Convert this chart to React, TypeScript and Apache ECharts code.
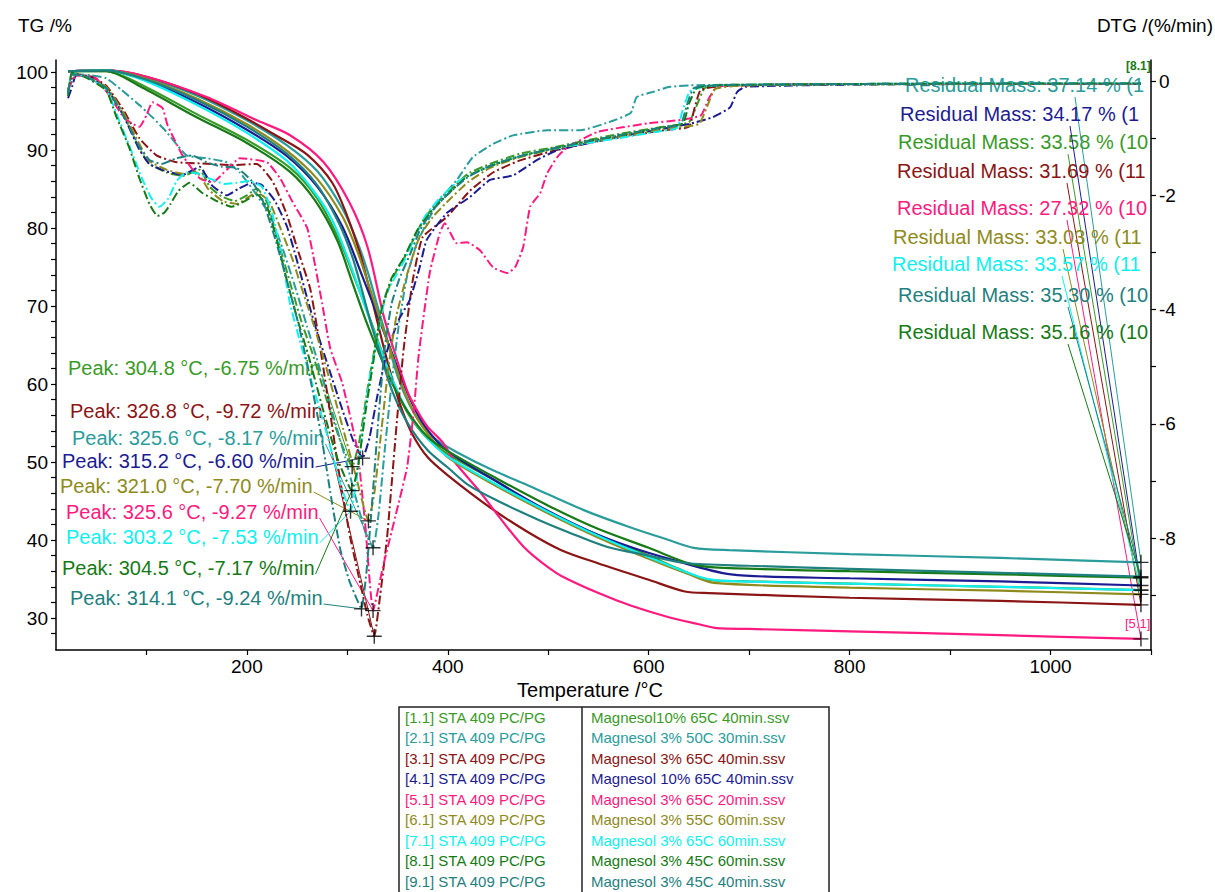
import React, { useEffect, useRef } from "react";
import * as echarts from "echarts";

const FONT = '"Liberation Sans", Arial, Helvetica, sans-serif';

// ---------- data ----------
const instrumentLabels = [
  "[1.1] STA 409 PC/PG", "[2.1] STA 409 PC/PG", "[3.1] STA 409 PC/PG",
  "[4.1] STA 409 PC/PG", "[5.1] STA 409 PC/PG", "[6.1] STA 409 PC/PG",
  "[7.1] STA 409 PC/PG", "[8.1] STA 409 PC/PG", "[9.1] STA 409 PC/PG",
];
const fileLabels = [
  "Magnesol10% 65C 40min.ssv", "Magnesol 3% 50C 30min.ssv", "Magnesol 3% 65C 40min.ssv",
  "Magnesol 10% 65C 40min.ssv", "Magnesol 3% 65C 20min.ssv", "Magnesol 3% 55C 60min.ssv",
  "Magnesol 3% 65C 60min.ssv", "Magnesol 3% 45C 60min.ssv", "Magnesol 3% 45C 40min.ssv",
];

const peakTemps = [304.8, 325.6, 326.8, 315.2, 325.6, 321.0, 303.2, 304.5, 314.1];
const peakRates = [-6.75, -8.17, -9.72, -6.6, -9.27, -7.7, -7.53, -7.17, -9.24];
const residualMass = [33.58, 37.14, 31.69, 34.17, 27.32, 33.03, 33.57, 35.16, 35.3];
const residualTextTemp = [1099.4, 1099.6, 1100.3, 1099.5, 1099.2, 1100.1, 1100.4, 1099.8, 1099.7];
const residualAt = 1090;

const xTicks = [100, 200, 300, 400, 500, 600, 700, 800, 900, 1000, 1100];
const xLabels = [200, 400, 600, 800, 1000];
const tgTicks = [28, 30, 32, 34, 36, 38, 40, 42, 44, 46, 48, 50, 52, 54, 56, 58, 60, 62, 64, 66, 68, 70, 72, 74, 76, 78, 80, 82, 84, 86, 88, 90, 92, 94, 96, 98, 100];
const tgLabels = [30, 40, 50, 60, 70, 80, 90, 100];
const dtgTicks = [-9, -8, -7, -6, -5, -4, -3, -2, -1, 0];
const dtgLabels = [-8, -6, -4, -2, 0];

const tg1 = [[22,100.1],[60,100.1],[93,98.5],[150,94.6],[200,91.3],[243,87.7],[270,83.8],[293,78.2],[305,74.3],[318,70],[332,65],[345,60.5],[360,56.3],[380,53],[400,51],[450,47.4],[490,44.2],[550,40.6],[600,38],[630,36.3],[660,34.9],[700,34.7],[800,34.4],[950,34.0],[1090,33.58]];
const tg2 = [[22,100.1],[60,100.2],[100,99.2],[150,97.0],[200,93.8],[240,90.6],[270,87.3],[295,82.5],[310,78.2],[320,74.5],[330,70],[340,65.5],[350,61],[362,57.3],[375,54.6],[389,52.8],[410,51.2],[444,49],[480,47],[536,43.8],[580,41.7],[620,40],[645,39.0],[680,38.7],[800,38.2],[950,37.7],[1090,37.14]];
const tg3 = [[22,100.1],[60,100.2],[100,99.4],[150,97.2],[193,94.5],[230,91.8],[260,89.4],[285,85.8],[300,81.5],[312,77],[320,73.2],[328,69],[336,64.8],[345,60.5],[355,56.5],[365,53.5],[380,50.6],[400,48.3],[444,44],[480,41],[513,38.7],[550,37],[600,34.9],[636,33.4],[660,33.2],[800,32.6],[950,32.2],[1090,31.69]];
const tg4 = [[22,100.1],[60,100.2],[100,98.9],[150,96.1],[200,92.6],[240,89.2],[270,85.3],[295,80.2],[315,73.8],[330,68.8],[345,63.8],[360,58.8],[375,55],[398,51.6],[450,47.4],[490,44.4],[540,41.2],[582,39.1],[620,37.6],[682,35.6],[800,35.1],[950,34.7],[1090,34.17]];
const tg5 = [[22,100.1],[60,100.2],[100,99.4],[160,96.8],[210,93.8],[243,91.9],[276,88.5],[302,83.3],[320,77.6],[336,68.8],[346,64.5],[360,59],[370,56.5],[380,54.5],[395,52.5],[407,50],[430,46.5],[448,43.5],[460,41.5],[475,39.2],[485,38],[500,36.5],[513,35.4],[550,33.2],[582,31.6],[620,30.1],[650,29.2],[668,28.7],[700,28.6],[800,28.3],[950,27.8],[1090,27.32]];
const tg6 = [[22,100.1],[60,100.2],[100,99.1],[150,96.6],[200,93.3],[240,89.9],[270,86.3],[295,81.5],[310,77],[321,72.8],[332,68.5],[345,63.5],[357,59],[370,55.5],[385,52.8],[400,50.6],[450,46.8],[500,43.4],[550,40.3],[600,37.6],[640,35.6],[665,34.5],[800,33.9],[950,33.5],[1090,33.03]];
const tg7 = [[22,100.1],[60,100.2],[100,98.8],[150,95.8],[200,92.2],[240,88.6],[265,85],[285,81],[303,75.3],[318,69.8],[332,64.8],[345,60.5],[360,56.5],[380,53],[400,50.7],[450,47],[500,43.6],[550,40.5],[600,37.8],[650,35.3],[670,34.8],[800,34.4],[950,34.0],[1090,33.57]];
const tg8 = [[22,100.1],[60,100.1],[93,98.2],[150,94.2],[200,90.9],[243,87.2],[268,83.5],[290,78.4],[304.5,73.2],[318,68.3],[332,63.8],[345,60],[360,56.5],[380,53.2],[400,51.4],[450,47.8],[500,44.4],[550,41.4],[600,39],[640,37],[665,36.5],[800,36.0],[950,35.6],[1090,35.16]];
const tg9 = [[22,100.1],[60,100.2],[100,99.0],[150,96.4],[200,93.0],[240,89.5],[270,85.5],[292,80.5],[305,76.3],[314,72.3],[323,68],[333,63.8],[345,59],[360,55],[380,51.5],[400,49.3],[421,47],[450,45],[490,42.6],[520,41],[559,39.1],[600,38],[636,37.05],[700,36.7],[800,36.3],[950,35.8],[1090,35.3]];

const dtg1 = [[22,-0.22],[26,0.14],[40,0.08],[60,-0.12],[77,-0.58],[93,-1.18],[103,-1.45],[120,-1.6],[136,-1.66],[153,-1.55],[163,-1.85],[175,-2.02],[188,-2.1],[200,-2.0],[210,-1.88],[220,-2.12],[228,-2.6],[236,-3.1],[245,-3.65],[255,-4.25],[265,-4.75],[278,-5.5],[292,-6.25],[304.8,-6.75],[312,-6.3],[320,-5.4],[328,-4.6],[336,-3.9],[345,-3.45],[358,-3.05],[375,-2.45],[388,-2.15],[400,-1.95],[420,-1.62],[442,-1.45],[472,-1.27],[505,-1.16],[540,-1.03],[572,-0.92],[614,-0.8],[640,-0.72],[648,-0.42],[656,-0.12],[680,-0.07],[800,-0.06],[950,-0.05],[1090,-0.05]];
const dtg2 = [[22,-0.15],[30,0.12],[45,0.1],[60,0.05],[75,-0.15],[93,-0.42],[107,-0.65],[120,-0.89],[140,-1.3],[160,-1.35],[180,-1.42],[193,-1.6],[210,-2.0],[223,-2.35],[235,-2.9],[248,-3.6],[260,-4.3],[272,-5.0],[285,-5.8],[298,-6.6],[310,-7.4],[318,-7.9],[325.6,-8.17],[331,-7.6],[337,-6.5],[344,-5.3],[351,-4.3],[359,-3.45],[369,-2.85],[382,-2.38],[392,-2.08],[409,-1.73],[425,-1.33],[445,-1.1],[465,-0.95],[499,-0.86],[532,-0.86],[560,-0.72],[582,-0.56],[588,-0.28],[604,-0.19],[621,-0.1],[648,-0.07],[800,-0.05],[950,-0.04],[1090,-0.04]];
const dtg3 = [[22,-0.18],[28,0.12],[45,0.08],[60,-0.08],[77,-0.5],[93,-1.0],[110,-1.3],[130,-1.42],[153,-1.44],[186,-1.47],[210,-1.45],[226,-1.77],[240,-2.35],[250,-2.92],[263,-3.63],[270,-4.33],[282,-5.7],[293,-7.0],[303,-8.0],[313,-8.8],[320,-9.35],[326.8,-9.72],[332,-9.1],[339.5,-8.0],[349.6,-5.9],[356,-4.7],[365,-3.5],[375,-2.73],[399,-2.38],[422,-1.92],[445,-1.6],[470,-1.4],[505,-1.22],[540,-1.08],[580,-0.95],[620,-0.85],[640,-0.8],[646,-0.45],[652,-0.15],[680,-0.08],[800,-0.05],[950,-0.05],[1090,-0.05]];
const dtg4 = [[22,-0.3],[26,-0.1],[30,0.1],[45,0.06],[60,-0.12],[77,-0.6],[93,-1.2],[103,-1.45],[120,-1.58],[136,-1.64],[153,-1.5],[165,-1.82],[180,-2.0],[192,-1.88],[205,-1.78],[215,-1.82],[228,-2.1],[240,-2.55],[250,-3.15],[260,-3.8],[270,-4.4],[282,-5.05],[295,-5.75],[306,-6.3],[315.2,-6.6],[322,-6.25],[330,-5.5],[340,-4.7],[352,-4.15],[362,-3.84],[372,-3.26],[379,-2.78],[399,-2.31],[422,-2.03],[442,-1.73],[465,-1.65],[489,-1.38],[509,-1.21],[550,-1.05],[600,-0.88],[640,-0.75],[664,-0.63],[681,-0.46],[688,-0.19],[696,-0.1],[800,-0.06],[950,-0.05],[1090,-0.05]];
const dtg5 = [[22,-0.15],[30,0.1],[50,0.05],[65,-0.3],[78,-0.65],[93,-0.8],[100,-0.6],[106,-0.37],[116,-0.47],[121,-0.77],[136,-1.3],[153,-1.7],[166,-1.77],[180,-1.55],[193,-1.35],[220,-1.42],[233,-1.7],[245,-2.1],[260,-2.57],[266,-3.05],[275,-3.9],[283,-4.68],[295,-5.29],[310,-6.46],[318,-7.8],[325.6,-9.27],[335.5,-8.5],[349.5,-7.5],[359.5,-6.76],[366,-5.8],[371,-4.8],[382,-3.36],[392,-2.66],[397,-2.49],[409,-2.84],[419,-2.82],[432,-2.96],[445,-3.26],[459,-3.36],[467,-3.26],[475,-2.91],[482,-2.2],[492,-1.96],[499,-1.61],[509,-1.33],[519,-1.16],[549,-0.89],[599,-0.74],[632,-0.68],[652,-0.6],[660,-0.3],[668,-0.1],[700,-0.07],[800,-0.05],[950,-0.05],[1090,-0.05]];
const dtg6 = [[22,-0.2],[26,0.12],[40,0.08],[60,-0.1],[77,-0.55],[93,-1.1],[103,-1.4],[120,-1.55],[136,-1.62],[150,-1.6],[162,-1.9],[176,-2.1],[190,-2.15],[200,-2.05],[210,-1.95],[222,-2.1],[234,-2.6],[245,-3.1],[256,-3.7],[268,-4.35],[282,-5.2],[296,-6.1],[309,-6.95],[321,-7.7],[327,-7.2],[334,-6.1],[341,-5.0],[349,-4.1],[360,-3.35],[372,-2.72],[385,-2.38],[399,-2.12],[420,-1.77],[442,-1.52],[470,-1.34],[505,-1.19],[540,-1.07],[580,-0.95],[620,-0.83],[650,-0.75],[658,-0.45],[666,-0.14],[690,-0.08],[800,-0.05],[950,-0.05],[1090,-0.04]];
const dtg7 = [[22,-0.22],[26,0.13],[40,0.07],[60,-0.14],[72,-0.65],[85,-1.22],[95,-1.68],[105,-2.05],[113,-2.2],[122,-2.05],[130,-1.75],[140,-1.6],[152,-1.62],[165,-1.72],[178,-1.8],[190,-1.78],[202,-1.75],[215,-1.85],[225,-2.3],[234,-3.0],[243,-3.9],[252,-4.5],[265,-5.3],[280,-6.2],[293,-7.05],[303.2,-7.53],[309,-7.0],[316,-6.0],[323,-5.1],[330,-4.5],[338,-3.75],[347,-3.45],[358,-3.1],[368,-2.7],[378,-2.35],[392,-2.05],[410,-1.76],[440,-1.5],[470,-1.32],[500,-1.2],[540,-1.08],[580,-0.97],[610,-0.88],[628,-0.82],[634,-0.5],[641,-0.18],[660,-0.08],[800,-0.05],[950,-0.04],[1090,-0.04]];
const dtg8 = [[22,-0.26],[26,0.15],[40,0.06],[60,-0.16],[70,-0.62],[83,-1.17],[93,-1.7],[103,-2.15],[111,-2.36],[118,-2.3],[124,-2.15],[132,-1.92],[143,-1.78],[155,-1.95],[170,-2.1],[185,-2.2],[198,-2.1],[210,-1.98],[220,-2.2],[230,-2.8],[240,-3.5],[250,-4.15],[262,-4.85],[275,-5.7],[290,-6.6],[304.5,-7.17],[311,-6.7],[318,-5.8],[326,-4.9],[334,-4.0],[344,-3.45],[356,-3.1],[370,-2.6],[385,-2.25],[400,-1.98],[420,-1.66],[445,-1.47],[475,-1.3],[505,-1.18],[540,-1.05],[575,-0.94],[610,-0.82],[634,-0.74],[640,-0.4],[648,-0.12],[670,-0.07],[800,-0.05],[950,-0.04],[1090,-0.04]];
const dtg9 = [[22,-0.2],[26,0.12],[40,0.08],[60,-0.12],[77,-0.6],[93,-1.15],[103,-1.38],[115,-1.45],[130,-1.35],[145,-1.3],[160,-1.42],[175,-1.5],[190,-1.52],[205,-1.75],[216,-2.1],[228,-2.75],[240,-3.5],[252,-4.3],[263,-5.2],[274,-6.2],[284,-7.3],[293,-8.2],[302,-8.75],[309,-9.05],[314.1,-9.24],[319,-8.6],[325,-7.3],[331,-5.9],[337,-4.7],[344,-3.9],[352,-3.45],[362,-3.05],[372,-2.62],[385,-2.26],[400,-1.98],[420,-1.68],[445,-1.46],[475,-1.3],[505,-1.18],[540,-1.05],[575,-0.93],[614,-0.81],[632,-0.75],[638,-0.42],[645,-0.12],[670,-0.07],[800,-0.05],[950,-0.04],[1090,-0.04]];

const tgData = [tg1, tg2, tg3, tg4, tg5, tg6, tg7, tg8, tg9];
const dtgData = [dtg1, dtg2, dtg3, dtg4, dtg5, dtg6, dtg7, dtg8, dtg9];

// ---------- styles / layout ----------
const colors = ["#3A9A28", "#2A9C9C", "#8B1414", "#1C1C92", "#FF1A80", "#8F8A1C", "#10F0F0", "#167A16", "#1F8080"];
const peakLabelPos = [[68, 368], [72, 438], [70, 411], [62, 461], [66, 512], [60, 486], [66, 537], [62, 568], [70, 598]];
const residualLabelPos = [[898, 142], [905, 85], [897, 171], [900, 114], [897, 208], [893, 237], [892, 264], [898, 332], [898, 295]];

const CROSS = "path://M7,0 L7,14 M0,7 L14,7";

export default function App() {
  const ref = useRef<HTMLDivElement>(null);
  useEffect(() => {
    document.body.style.margin = "0";
    const chart = echarts.init(ref.current!, undefined, { renderer: "svg" });
    const series: any[] = [];
    for (let i = 0; i < 9; i++) {
      series.push({
        type: "line", name: "TG" + i, xAxisIndex: 0, yAxisIndex: 0, data: tgData[i],
        symbol: "none", smooth: 0.3, silent: true, z: 3,
        lineStyle: { color: colors[i], width: 2.2 },
      });
    }
    for (let i = 0; i < 9; i++) {
      series.push({
        type: "line", name: "DTG" + i, xAxisIndex: 0, yAxisIndex: 1, data: dtgData[i],
        symbol: "none", smooth: 0.15, silent: true, z: 4,
        lineStyle: { color: colors[i], width: 2, type: [9, 3, 2, 3] },
      });
    }
    series.push({
      type: "scatter", xAxisIndex: 0, yAxisIndex: 1, silent: true, z: 10,
      data: peakTemps.map((t, i) => [t, peakRates[i]]),
      symbol: CROSS, symbolSize: 15,
      itemStyle: { color: "rgba(0,0,0,0)", borderColor: "#000", borderWidth: 1.4 },
    });
    series.push({
      type: "scatter", xAxisIndex: 0, yAxisIndex: 0, silent: true, z: 10,
      data: residualMass.map((m) => [residualAt, m]),
      symbol: CROSS, symbolSize: 15,
      itemStyle: { color: "rgba(0,0,0,0)", borderColor: "#000", borderWidth: 1.4 },
    });

    const axisLine = { show: true, onZero: false, lineStyle: { color: "#000", width: 1.5 } };
    const tickStyle = { color: "#000", width: 1.2 };
    const labelBase = { color: "#000", fontSize: 19, fontFamily: FONT };

    chart.setOption({
      animation: false,
      grid: { left: 56, right: 64, top: 60, bottom: 242 },
      xAxis: {
        type: "value", min: 10, max: 1100,
        axisLine, splitLine: { show: false },
        axisTick: { show: true, customValues: xTicks, length: 5, lineStyle: tickStyle },
        axisLabel: { ...labelBase, customValues: xLabels, margin: 7, formatter: (v: number) => String(v) },
      },
      yAxis: [
        {
          type: "value", min: 25.9, max: 101.54, position: "left",
          axisLine, splitLine: { show: false },
          axisTick: { show: true, customValues: tgTicks, length: 5, lineStyle: tickStyle },
          axisLabel: { ...labelBase, customValues: tgLabels, margin: 8, formatter: (v: number) => String(v) },
        },
        {
          type: "value", min: -9.96, max: 0.37, position: "right",
          axisLine, splitLine: { show: false },
          axisTick: { show: true, customValues: dtgTicks, length: 5, lineStyle: tickStyle },
          axisLabel: { ...labelBase, customValues: dtgLabels, margin: 8, formatter: (v: number) => String(v) },
        },
      ],
      series,
    });

    const canvas = document.createElement("canvas");
    const ctx = canvas.getContext("2d")!;
    const annFont = `20px ${FONT}`;
    ctx.font = annFont;

    const g: any[] = [];
    // axis titles
    g.push({ type: "text", x: 18, y: 25, style: { text: "TG /%", fill: "#000", font: `19px ${FONT}`, textVerticalAlign: "middle" } });
    g.push({ type: "text", x: 1213, y: 25, style: { text: "DTG /(%/min)", fill: "#000", font: `19px ${FONT}`, textAlign: "right", textVerticalAlign: "middle" } });
    g.push({ type: "text", x: 590, y: 690, style: { text: "Temperature /°C", fill: "#000", font: `20px ${FONT}`, textAlign: "center", textVerticalAlign: "middle" } });

    // peak labels + leaders
    for (let i = 0; i < 9; i++) {
      const text = `Peak: ${peakTemps[i].toFixed(1)} °C, ${peakRates[i].toFixed(2)} %/min`;
      const [lx, ly] = peakLabelPos[i];
      const w = ctx.measureText(text).width;
      const p = chart.convertToPixel({ xAxisIndex: 0, yAxisIndex: 1 }, [peakTemps[i], peakRates[i]]) as number[];
      g.push({ type: "text", x: lx, y: ly, z: 1, style: { text, fill: colors[i], font: annFont, textVerticalAlign: "middle" } });
      g.push({ type: "line", z: 1, shape: { x1: lx + w + 1, y1: ly + 6, x2: p[0], y2: p[1] }, style: { stroke: colors[i], lineWidth: 1 } });
    }
    // residual labels + leaders
    for (let i = 0; i < 9; i++) {
      const text = `Residual Mass: ${residualMass[i].toFixed(2)} % (${residualTextTemp[i].toFixed(1)} °C)`;
      const [lx, ly] = residualLabelPos[i];
      const p = chart.convertToPixel({ xAxisIndex: 0, yAxisIndex: 0 }, [residualAt, residualMass[i]]) as number[];
      g.push({ type: "text", x: lx, y: ly, z: 1, style: { text, fill: colors[i], font: annFont, textVerticalAlign: "middle", width: 1151 - lx, overflow: "truncate", ellipsis: "" } });
      g.push({ type: "line", z: 1, shape: { x1: lx + 170, y1: ly + 12, x2: p[0], y2: p[1] }, style: { stroke: colors[i], lineWidth: 1 } });
    }
    // curve end tags
    g.push({ type: "text", x: 1125, y: 623, style: { text: "[5.1]", fill: colors[4], font: `13px ${FONT}`, textVerticalAlign: "middle" } });
    g.push({ type: "text", x: 1126, y: 66, style: { text: "[8.1]", fill: colors[7], font: `bold 12px ${FONT}`, textVerticalAlign: "middle" } });

    // legend table
    const bx = 399, by = 707, bw = 430, divX = 582, rowY0 = 717, rowH = 20.5;
    g.push({ type: "rect", shape: { x: bx, y: by, width: bw, height: 200 }, style: { fill: "#fff", stroke: "#222", lineWidth: 1.5 } });
    g.push({ type: "line", shape: { x1: divX, y1: by, x2: divX, y2: 892 }, style: { stroke: "#222", lineWidth: 1.5 } });
    for (let i = 0; i < 9; i++) {
      g.push({ type: "text", x: 405, y: rowY0 + i * rowH, style: { text: instrumentLabels[i], fill: colors[i], font: `15px ${FONT}`, textVerticalAlign: "middle" } });
      g.push({ type: "text", x: 591, y: rowY0 + i * rowH, style: { text: fileLabels[i], fill: colors[i], font: `15px ${FONT}`, textVerticalAlign: "middle" } });
    }

    chart.setOption({ graphic: g });
    return () => chart.dispose();
  }, []);
  return <div ref={ref} style={{ width: 1215, height: 892 }} />;
}
